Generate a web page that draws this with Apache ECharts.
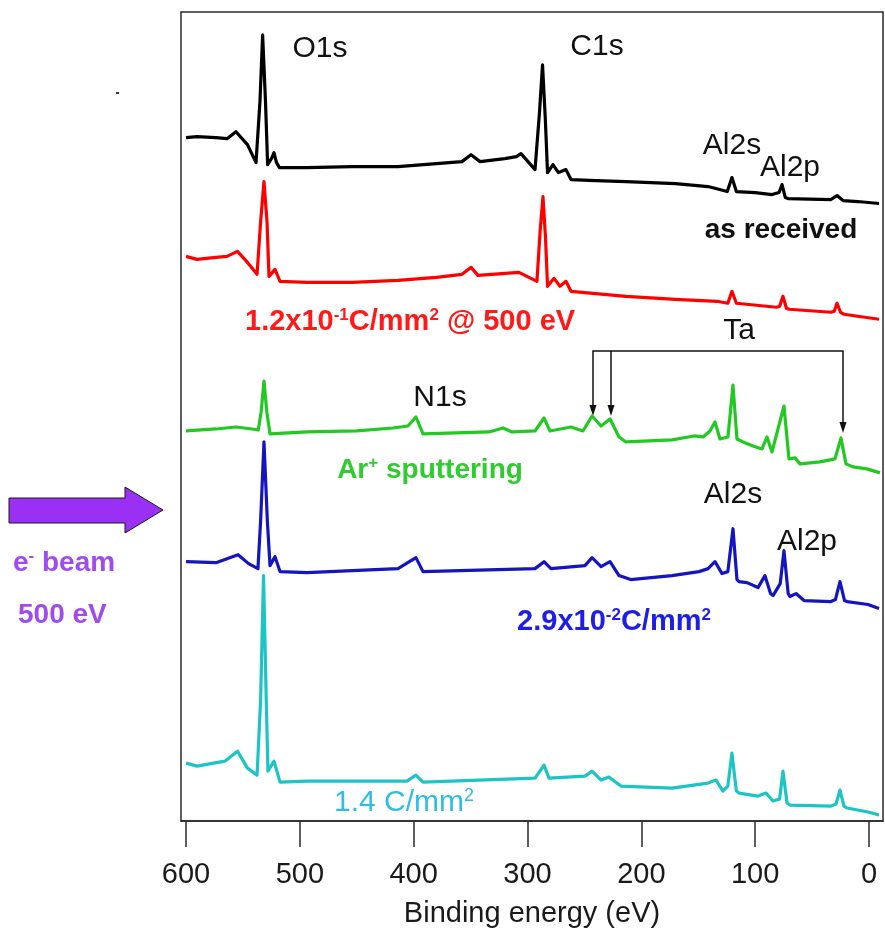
<!DOCTYPE html>
<html><head><meta charset="utf-8">
<script src="https://cdn.jsdelivr.net/npm/echarts@6/dist/echarts.min.js"></script>
<style>html,body{margin:0;padding:0;background:#fff}#c{width:885px;height:933px}</style>
</head><body><div id="c"></div>
<script>
// Binding energy tick labels (eV)
const energyTicks = [0, 100, 200, 300, 400, 500, 600];

// Spectra: [binding energy (eV), intensity (a.u., offset stacked)]
const asReceived = [
  [600.0,685],[590.4,686],[573.7,685],[564.0,684],[556.1,691],[546.0,678],[538.5,660],
  [535.0,722],[532.7,788],[530.2,722],[528.3,658],[524.5,665],[522.7,670],[520.5,660],[517.9,655],
  [493.7,655],[454.2,656],[413.8,656],[380.0,659],[357.6,661],[349.6,668],[341.7,661],
  [320.0,664],[309.7,666],[305.7,669],[293.4,653],[289.5,710],[286.8,758],[284.4,705],[282.4,650],
  [277.6,658],[272.8,650],[266.2,653],[261.8,643],[240.0,642],[213.5,641],[170.0,639],[141.4,636],
  [124.5,631],[120.4,645],[116.5,631],[100.0,630],[85.2,628],[79.0,630],[76.4,638],[73.5,625],[71.2,624],
  [33.4,623],[28.1,627],[22.8,622],[10.0,621],[-8.8,619]
];
const dose012 = [
  [600.0,566],[590.4,563],[573.7,565],[564.0,566],[554.8,571],[546.0,560],[537.6,548],
  [534.5,600],[531.5,641],[528.8,600],[527.1,546],[521.8,553],[517.4,541],
  [493.7,540],[454.2,540],[413.8,542],[380.0,545],[357.6,548],[349.6,555],[343.5,547],
  [307.5,550],[291.7,541],[289.0,590],[286.4,626],[284.2,585],[282.4,536],[276.7,544],[271.5,536],
  [266.2,541],[261.8,531],[213.5,526],[170.0,523],[133.5,521],[124.0,519],[120.4,531],[116.5,519],
  [81.3,515],[78.5,516],[75.6,526],[72.5,514],[70.3,513],[33.4,510],[30.5,511],[28.1,519],[25.0,510],[22.0,508],[10.0,506],[-8.8,503]
];
const arSputter = [
  [600.0,391],[573.7,393],[556.1,395],[542.0,393],[536.5,392],[534.0,410],[531.5,441],[529.0,410],
  [526.2,388],[493.7,390],[450.0,391],[418.2,394],[405.0,396],[398.0,405],[391.8,388],
  [333.8,390],[321.5,394],[313.6,390],[293.4,391],[285.5,404],[280.2,391],[261.8,395],
  [251.3,391],[243.3,406],[235.4,396],[227.5,403],[219.6,385],[213.5,380],[173.1,382],
  [153.7,386],[145.8,385],[139.7,391],[135.3,400],[130.9,383],[123.9,385],[119.5,437],[116.0,383],
  [110.7,380],[101.9,376],[94.0,373],[89.6,385],[85.2,370],[74.7,416],[70.3,363],[65.0,364],
  [60.6,358],[43.0,360],[29.9,363],[24.6,384],[20.2,358],[14.1,355],[1.8,353],[-9.7,349]
];
const dose0029 = [
  [600.0,260],[573.7,259],[554.3,267],[545.0,258],[536.8,253],[534.5,300],[531.5,380],[528.5,300],
  [526.2,256],[521.8,265],[517.4,250],[493.7,249],[413.8,253],[398.0,264],[391.8,250],
  [293.4,253],[285.5,260],[279.4,253],[249.5,256],[243.3,264],[235.4,255],[227.5,260],
  [219.6,246],[209.4,242],[173.1,246],[149.3,250],[141.4,253],[135.3,260],[129.1,248],
  [124.0,250],[119.5,293],[116.0,242],[114.2,240],[107.2,239],[97.5,234],[91.4,246],[86.5,228],[84.3,226],
  [78.0,238],[74.7,271],[71.0,228],[69.4,225],[64.1,228],[57.1,221],[33.4,220],[29.5,222],[25.5,240],
  [21.5,221],[19.3,220],[0.9,217],[-8.8,213]
];
const dose14 = [
  [600.0,58],[590.4,55],[565.8,60],[554.8,70],[546.0,53],[537.6,46],[534.5,120],[531.9,246],
  [529.5,120],[528.0,50],[522.7,60],[517.4,39],[493.7,40],[405.9,40],[398.0,46],[391.8,39],
  [293.4,43],[285.5,56],[281.1,43],[249.5,45],[243.3,50],[235.4,41],[228.4,44],[217.9,35],
  [173.1,33],[141.4,38],[134.4,41],[128.3,30],[124.0,35],[120.4,68],[116.5,30],[114.2,28],
  [97.5,25],[90.5,28],[84.3,20],[78.5,22],[75.6,50],[72.0,18],[69.4,16],[33.4,15],[29.0,17],[25.5,31],
  [22.0,15],[19.3,13],[0.9,9],[-8.8,6]
];

const FONT = '"Liberation Sans", Arial, sans-serif';
const chart = echarts.init(document.getElementById('c'), null, {renderer: 'canvas'});

function line(name, data, color) {
  return {
    name, type: 'line', data, showSymbol: false, smooth: false, silent: true,
    lineStyle: {color, width: 3.2, join: 'round'}, animation: false
  };
}
function txt(x, y, text, opts) {
  return {
    type: 'text', x, y, silent: true,
    style: Object.assign({
      text, fill: '#111', font: '30px ' + FONT,
      textAlign: 'center', textVerticalAlign: 'middle'
    }, opts || {})
  };
}
function rich(x, y, text, color, size, weight, align) {
  return {
    type: 'text', x, y, silent: true,
    style: {
      text, textAlign: align || 'center', textVerticalAlign: 'middle',
      rich: {
        n: {fontSize: size, fontWeight: weight, fontFamily: FONT, fill: color, color: color},
        s: {fontSize: Math.round(size * 0.6), fontWeight: weight, fontFamily: FONT, fill: color, color: color, padding: [0, 0, Math.round(size * 0.45), 0]}
      }
    }
  };
}

chart.setOption({
  animation: false,
  backgroundColor: '#fff',
  grid: {left: 181, right: 2, top: 12, bottom: 110, show: true, borderColor: '#2a2a2a', borderWidth: 1.5},
  xAxis: {
    type: 'value', inverse: true, min: -12.3, max: 604.4,
    name: 'Binding energy (eV)', nameLocation: 'middle', nameGap: 78,
    nameTextStyle: {fontFamily: FONT, fontSize: 29, color: '#1a1a1a'},
    axisLine: {show: true, lineStyle: {color: '#2a2a2a', width: 1.5}},
    axisTick: {show: true, inside: false, length: 26, lineStyle: {color: '#2a2a2a', width: 1.5}, customValues: energyTicks},
    axisLabel: {fontFamily: FONT, fontSize: 29, color: '#1a1a1a', margin: 39, customValues: energyTicks},
    splitLine: {show: false}
  },
  yAxis: {type: 'value', min: 0, max: 811, show: false},
  series: [
    line('as received', asReceived, '#000000'),
    line('1.2x10^-1 C/mm2 @ 500 eV', dose012, '#ff0000'),
    line('Ar+ sputtering', arSputter, '#22c922'),
    line('2.9x10^-2 C/mm2', dose0029, '#1414c0'),
    line('1.4 C/mm2', dose14, '#1ec4c4')
  ],
  graphic: [
    txt(320, 49, 'O1s'),
    txt(597, 47, 'C1s'),
    txt(732, 146, 'Al2s'),
    txt(790, 168, 'Al2p'),
    txt(781, 230, 'as received', {font: 'bold 28px ' + FONT}),
    rich(245, 322, '{n|1.2x10}{s|-1}{n|C/mm}{s|2}{n| @ 500 eV}', '#ff1a1a', 29, 'bold', 'left'),
    txt(739, 331, 'Ta'),
    txt(440, 398, 'N1s'),
    rich(430, 470, '{n|Ar}{s|+}{n| sputtering}', '#2ecc2e', 28, 'bold'),
    txt(733, 495, 'Al2s'),
    txt(807, 542, 'Al2p'),
    rich(614, 622, '{n|2.9x10}{s|-2}{n|C/mm}{s|2}', '#1e1ee6', 29, 'bold'),
    rich(404, 803, '{n|1.4 C/mm}{s|2}', '#2fbde3', 30, 'normal'),
    // Ta bracket with arrows
    {type: 'polyline', silent: true, shape: {points: [[593, 407], [593, 351], [843, 351], [843, 424]]}, style: {stroke: '#111', lineWidth: 1.5, fill: null}},
    {type: 'line', silent: true, shape: {x1: 611, y1: 351, x2: 611, y2: 407}, style: {stroke: '#111', lineWidth: 1.5}},
    {type: 'polygon', silent: true, shape: {points: [[589.5, 405], [596.5, 405], [593, 416]]}, style: {fill: '#111'}},
    {type: 'polygon', silent: true, shape: {points: [[607.5, 405], [614.5, 405], [611, 416]]}, style: {fill: '#111'}},
    {type: 'polygon', silent: true, shape: {points: [[839.5, 422], [846.5, 422], [843, 433]]}, style: {fill: '#111'}},
    // electron beam arrow
    {type: 'polygon', silent: true, shape: {points: [[9, 498], [125, 498], [125, 487], [163, 510], [125, 533], [125, 523], [9, 523]]}, style: {fill: '#9b30f5', stroke: '#1a1a1a', lineWidth: 1}},
    rich(13, 563, '{n|e}{s|-}{n| beam}', '#a04af0', 28, 'bold', 'left'),
    rich(18, 615, '{n|500 eV}', '#a04af0', 28, 'bold', 'left'),
    {type: 'rect', silent: true, shape: {x: 116, y: 92, width: 3, height: 2}, style: {fill: '#333'}}
  ]
});
</script>
</body></html>
